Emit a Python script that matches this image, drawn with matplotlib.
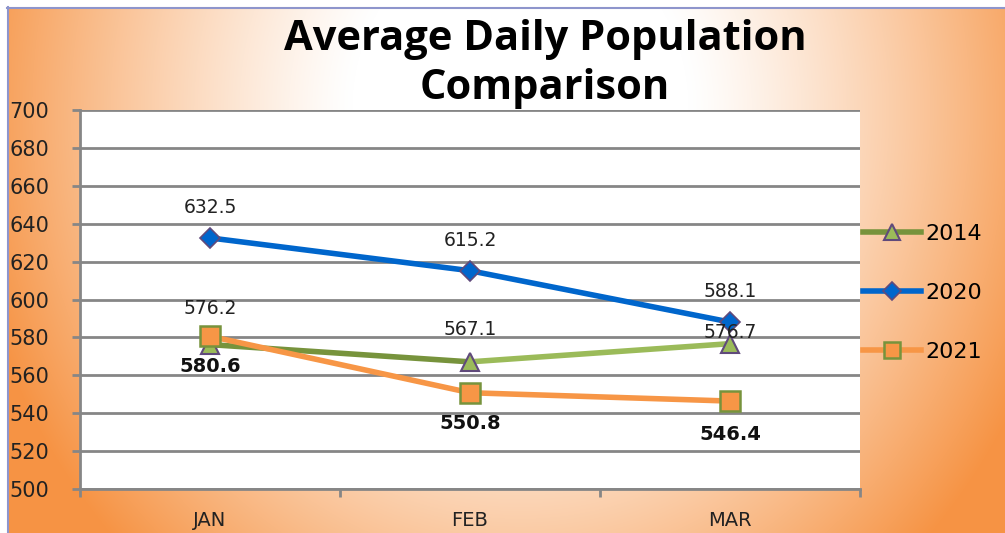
import numpy as np
import matplotlib.pyplot as plt
from matplotlib.lines import Line2D

months = ['JAN', 'FEB', 'MAR']
pop_2014 = [576.2, 567.1, 576.7]
pop_2020 = [632.5, 615.2, 588.1]
pop_2021 = [580.6, 550.8, 546.4]

fig = plt.figure(figsize=(10.05, 5.33), dpi=100)

# orange gradient background
bg = fig.add_axes([0, 0, 1, 1], zorder=0)
h, w = 533, 1005
yy, xx = np.mgrid[0:h, 0:w]
d = np.sqrt(((xx - 520) / 560.0) ** 2 + ((yy - 110) / 620.0) ** 2)
t = np.clip((d - 0.3) / 0.7, 0, 1) ** 1.2
white = np.array([1.0, 1.0, 1.0])
orange = np.array([0.965, 0.58, 0.27])
img = white * (1 - t[..., None]) + orange * t[..., None]
img[:7, :] = 1.0
img[:, :7] = 1.0
bg.imshow(img, extent=[0, w, h, 0], aspect='auto')
bg.plot([7, w], [7.5, 7.5], color='#8E95CC', lw=1.5)
bg.plot([7.5, 7.5], [7, h], color='#8E95CC', lw=1.5)
bg.set_xlim(0, w)
bg.set_ylim(h, 0)
bg.axis('off')

ax = fig.add_axes([80 / w, 1 - 489 / h, 780 / w, 379 / h], zorder=1)
ax.set_facecolor('white')
x = np.arange(len(months))

# 2014 line, dark green to light green
ax.plot(x[:2], pop_2014[:2], color='#77933C', lw=4, zorder=3, solid_capstyle='round')
ax.plot(x[1:], pop_2014[1:], color='#9BBB59', lw=4, zorder=3, solid_capstyle='round')
ax.plot(x, pop_2014, ls='none', marker='^', ms=13, mfc='#9BBB59', mec='#604A7B', mew=1.5, zorder=4)

ax.plot(x, pop_2020, color='#0066CC', lw=4, marker='D', ms=10, mfc='#0066CC',
        mec='#604A7B', mew=1.2, zorder=5)
ax.plot(x, pop_2021, color='#F79646', lw=4, marker='s', ms=15, mfc='#F79646',
        mec='#77933C', mew=1.8, zorder=6)

# label offsets in points (Excel nudges the crowded ones)
off_2014 = [26, 23, 8]
off_2020 = [22, 22, 22]
off_2021 = [-22, -22, -24]

lab_font = 'DejaVu Sans'
for i in range(len(months)):
    ax.annotate(f'{pop_2014[i]}', (x[i], pop_2014[i]), xytext=(0, off_2014[i]), textcoords='offset points',
                ha='center', va='center', fontsize=13.5, color='#222222', family=lab_font, zorder=7)
    ax.annotate(f'{pop_2020[i]}', (x[i], pop_2020[i]), xytext=(0, off_2020[i]), textcoords='offset points',
                ha='center', va='center', fontsize=13.5, color='#222222', family=lab_font, zorder=7)
    ax.annotate(f'{pop_2021[i]}', (x[i], pop_2021[i]), xytext=(0, off_2021[i]), textcoords='offset points',
                ha='center', va='center', fontsize=14, fontweight='bold', color='#111111',
                family=lab_font, zorder=7)

ax.set_xlim(-0.5, 2.5)
ax.set_ylim(500, 700)
ax.set_yticks(np.arange(500, 701, 20))
ax.set_xticks(x)
ax.set_xticklabels(months)
ax.set_xticks([-0.5, 0.5, 1.5, 2.5], minor=True)
ax.tick_params(axis='x', which='major', length=0, pad=16, labelsize=14, labelcolor='#222222')
ax.tick_params(axis='x', which='minor', length=6, width=2, color='#868686', direction='out')
ax.tick_params(axis='y', length=6, width=2, color='#868686', labelsize=15, labelcolor='#222222', pad=45)
for lab in ax.get_yticklabels():
    lab.set_horizontalalignment('left')
ax.yaxis.grid(True, color='#868686', lw=2)
ax.set_axisbelow(True)
for s in ['top', 'right']:
    ax.spines[s].set_visible(False)
for s in ['left', 'bottom']:
    ax.spines[s].set_color('#868686')
    ax.spines[s].set_linewidth(2)

fig.text(545 / w, 1 - 64 / h, 'Average Daily Population\nComparison', ha='center', va='center',
         fontsize=30, fontweight='bold', family='Open Sans', linespacing=1.28, zorder=2)

handles = [
    Line2D([], [], color='#77933C', lw=4, marker='^', ms=11, mfc='#9BBB59', mec='#604A7B', mew=1.5),
    Line2D([], [], color='#0066CC', lw=4, marker='D', ms=9, mfc='#0066CC', mec='#604A7B', mew=1.2),
    Line2D([], [], color='#F79646', lw=4, marker='s', ms=12, mfc='#F79646', mec='#77933C', mew=1.8),
]
fig.legend(handles, ['2014', '2020', '2021'], loc='center left', bbox_to_anchor=(843 / w, 1 - 293 / h),
           frameon=False, fontsize=16, handlelength=2.6, labelspacing=1.75, handletextpad=0.2)

fig.savefig('out.png', dpi=100)
